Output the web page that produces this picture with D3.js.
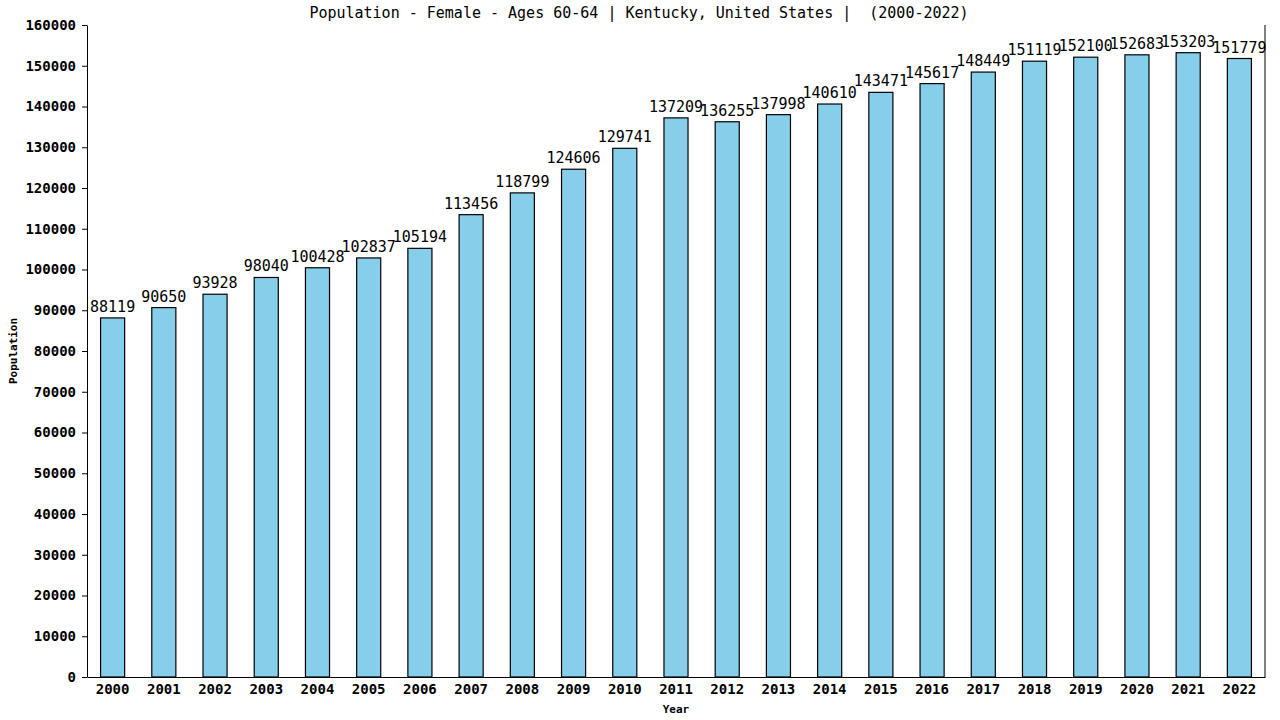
<!DOCTYPE html>
<html>
<head>
<meta charset="utf-8">
<script src="https://cdn.jsdelivr.net/npm/d3@7"></script>
<style>
  body { margin: 0; background: #fff; }
  text { font-family: "DejaVu Sans Mono", monospace; fill: #000; }
</style>
</head>
<body>
<script>
// Data
const years = ["2000","2001","2002","2003","2004","2005","2006","2007","2008","2009","2010","2011",
               "2012","2013","2014","2015","2016","2017","2018","2019","2020","2021","2022"]
const population = [88119, 90650, 93928, 98040, 100428, 102837, 105194, 113456, 118799, 124606, 129741, 137209,
                    136255, 137998, 140610, 143471, 145617, 148449, 151119, 152100, 152683, 153203, 151779]
const yTicks = [0,10000,20000,30000,40000,50000,60000,70000,80000,90000,100000,110000,120000,130000,140000,150000,160000]

const title = "Population - Female - Ages 60-64 | Kentucky, United States |  (2000-2022)"

const W = 1280, H = 720
const margin = { top: 25, right: 15, bottom: 43, left: 87 }

const svg = d3.select("body").append("svg")
  .attr("width", W)
  .attr("height", H)

const x = d3.scaleBand()
  .domain(years)
  .range([margin.left, W - margin.right])
  .paddingInner(0.53)
  .paddingOuter(0.265)

const y = d3.scaleLinear()
  .domain([0, 160000])
  .range([H - margin.bottom, margin.top])

// Bars
svg.append("g").selectAll("rect")
  .data(population)
  .join("rect")
  .attr("x", (d, i) => x(years[i]))
  .attr("y", d => y(d))
  .attr("width", x.bandwidth())
  .attr("height", d => y(0) - y(d))
  .attr("fill", "#87ceeb")
  .attr("stroke", "#000")
  .attr("stroke-width", 1.2)

// Value labels
svg.append("g").selectAll("text")
  .data(population)
  .join("text")
  .attr("x", (d, i) => x(years[i]) + x.bandwidth() / 2)
  .attr("y", d => y(d) - 6)
  .attr("text-anchor", "middle")
  .style("font-size", "15px")
  .text(d => d)

// Y axis
svg.append("g")
  .attr("transform", `translate(${margin.left},0)`)
  .call(d3.axisLeft(y).tickValues(yTicks).tickSize(5).tickSizeOuter(0).tickPadding(6).tickFormat(d3.format("d")))
  .call(g => g.selectAll("text").style("font-size", "14px").style("font-weight", "bold"))

// X axis
svg.append("g")
  .attr("transform", `translate(0,${H - margin.bottom})`)
  .call(d3.axisBottom(x).tickSize(0).tickSizeOuter(0).tickPadding(7))
  .call(g => g.selectAll("text").style("font-size", "14px").style("font-weight", "bold"))

// Right border line
svg.append("line")
  .attr("x1", W - margin.right).attr("x2", W - margin.right)
  .attr("y1", margin.top).attr("y2", H - margin.bottom)
  .attr("stroke", "#000")

svg.selectAll(".domain").attr("stroke", "#000")

// Title
svg.append("text")
  .attr("x", 639)
  .attr("y", 18)
  .attr("text-anchor", "middle")
  .style("font-size", "15px")
  .style("white-space", "pre")
  .text(title)

// Axis titles
svg.append("text")
  .attr("x", 676)
  .attr("y", 713)
  .attr("text-anchor", "middle")
  .style("font-size", "11px")
  .style("font-weight", "bold")
  .text("Year")

svg.append("text")
  .attr("transform", "translate(17,351) rotate(-90)")
  .attr("text-anchor", "middle")
  .style("font-size", "11px")
  .style("font-weight", "bold")
  .text("Population")
</script>
</body>
</html>
